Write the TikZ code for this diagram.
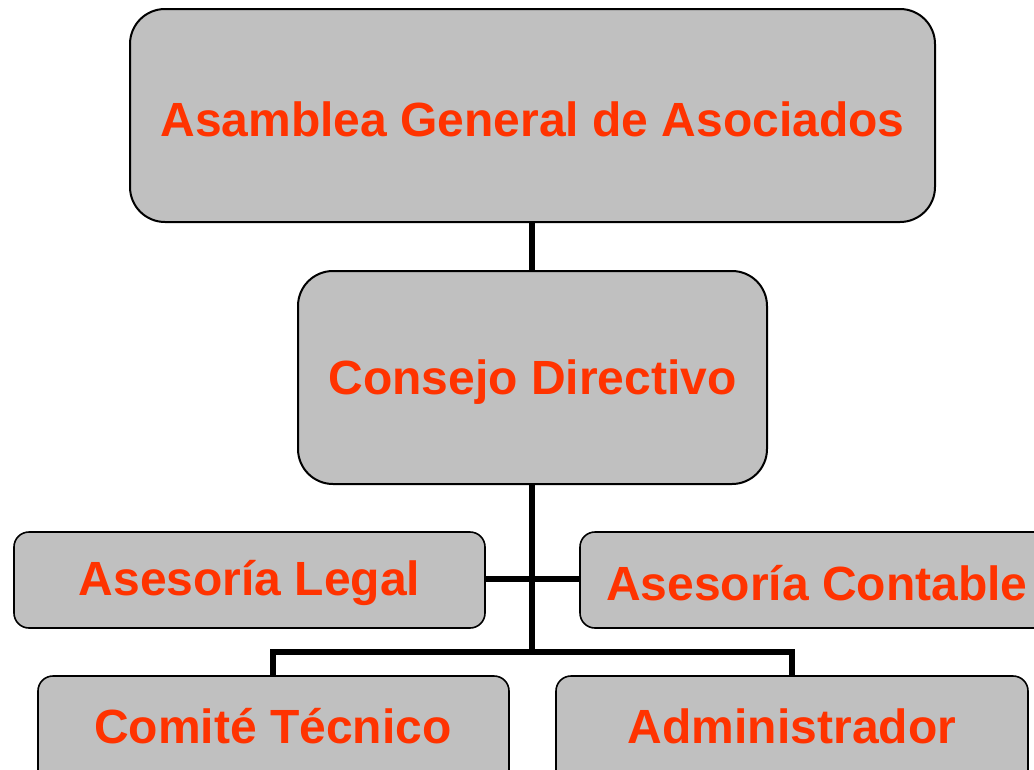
\documentclass[tikz,border=0pt]{standalone}
\usepackage{fontspec}
\setmainfont{Liberation Sans}
\definecolor{boxgray}{HTML}{C0C0C0}
\definecolor{txtred}{HTML}{FF3300}
\begin{document}
\begin{tikzpicture}[x=1pt,y=-1pt,
  bigbox/.style={draw=black,line width=2pt,fill=boxgray,rounded corners=35pt,inner sep=0pt},
  smallbox/.style={draw=black,line width=1.6pt,fill=boxgray,rounded corners=15pt,inner sep=0pt},
  lbl/.style={font=\fontsize{48}{58}\selectfont\bfseries,text=txtred},
  conn/.style={line width=5.5pt,black}]
\useasboundingbox (0,0) rectangle (1034,769);
\clip (0,0) rectangle (1034,769);
% connectors
\coordinate (j1) at (532,579);
\coordinate (j2) at (532,652);
\coordinate (cl) at (273,652);
\coordinate (cr) at (792,652);
\draw[conn] (532,222) -- (532,271);
\draw[conn] (532,484) -- (j2);
\draw[conn] (485,579) -- (580,579);
\draw[conn] (273,678) -- (cl) -- (cr) -- (792,678);
% boxes
\draw[bigbox] (130,9) rectangle (935,222);
\node[lbl] (a) at (532.5,119) {Asamblea General de Asociados};
\draw[bigbox] (298,271) rectangle (767,484);
\node[lbl] (c) at (532.5,382) {Consejo Directivo};
\draw[smallbox] (14,532) rectangle (485,628);
\node[lbl] (l) at (249.5,583) {Asesoría Legal};
\draw[smallbox] (580,532) rectangle (1060,628);
\node[lbl] (r) at (817,583) {Asesoría Contable};
\draw[smallbox] (38,676) rectangle (509,800);
\node[lbl] (t) at (273,726) {Comité Técnico};
\draw[smallbox] (556,676) rectangle (1028,800);
\node[lbl] (d) at (792,726) {Administrador};
\end{tikzpicture}
\end{document}
